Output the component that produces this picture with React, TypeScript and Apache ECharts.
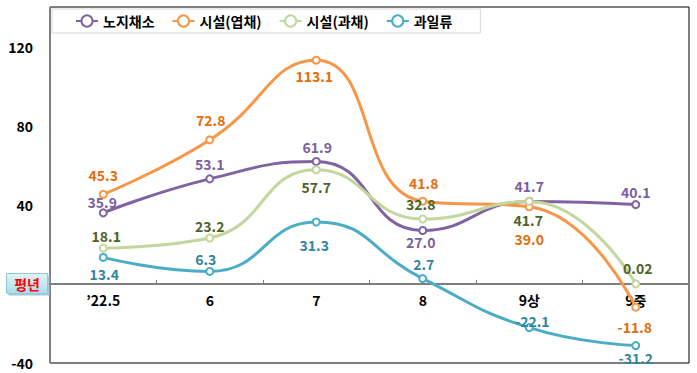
import React, { useEffect, useRef } from "react";
import * as echarts from "echarts";

const categories = ["\u201922.5", "6", "7", "8", "9상", "9중"];
const seriesNames = ["노지채소", "시설(엽채)", "시설(과채)", "과일류"];
const openField = [35.9, 53.1, 61.9, 27.0, 41.7, 40.1];
const leafyVeg = [45.3, 72.8, 113.1, 41.8, 39.0, -11.8];
const fruitVeg = [18.1, 23.2, 57.7, 32.8, 41.7, 0.02];
const fruits = [13.4, 6.3, 31.3, 2.7, -22.1, -31.2];
const yTicks = [-40, 40, 80, 120];
const Y_MIN = -40;
const Y_MAX = 140;

// label placement (label centre relative to point), layout only
const labelOffsets: number[][][] = [
  [[-1, -11], [0, -15], [1, -14], [-2, 12], [0, -15], [0, -13]],
  [[0, -19], [1, -20], [-2, 16], [1, -18], [0, 32], [-1, 20]],
  [[3, -12], [0, -12], [0, 17], [-2, -15], [-1, 19], [2, -16]],
  [[1, 17], [-4, -12], [-2, 23], [1, -15], [3, -7], [0, 12]],
];
const lineColors = ["#8064a2", "#f79646", "#c3d69b", "#4bacc6"];
const labelColors = ["#7b5ea0", "#e46c0a", "#4f6228", "#31859c"];

const FONT = "'Noto Sans CJK KR', 'Noto Sans', sans-serif";
const GRID_TOP = 7;
const GRID_BOTTOM = 10;
const H = 373;

function fmt(v: number): string {
  const t = v * 10;
  return Math.abs(t - Math.round(t)) < 1e-9 ? v.toFixed(1) : String(v);
}

export default function App() {
  const ref = useRef<HTMLDivElement>(null);
  useEffect(() => {
    if (!ref.current) return;
    const chart = echarts.init(ref.current, undefined, { renderer: "svg" });
    const allData = [openField, leafyVeg, fruitVeg, fruits];
    const plotH = H - GRID_TOP - GRID_BOTTOM;
    const zeroOffset = -(plotH * (0 - Y_MIN)) / (Y_MAX - Y_MIN);
    const series = allData.map((arr, si) => ({
      name: seriesNames[si],
      type: "line",
      smooth: 0.5,
      symbol: "emptyCircle",
      symbolSize: 7,
      lineStyle: { color: lineColors[si], width: 3 },
      itemStyle: { color: lineColors[si], borderWidth: 2 },
      z: [3, 4, 5, 2][si],
      data: arr.map((v, i) => ({
        value: v,
        label: {
          show: true,
          position: "inside",
          offset: labelOffsets[si][i],
          formatter: () => fmt(v),
          color: labelColors[si],
          fontFamily: FONT,
          fontWeight: "bold",
          fontSize: 14,
          lineHeight: 14,
        },
      })),
    }));
    chart.setOption({
      animation: false,
      backgroundColor: "#ffffff",
      grid: {
        left: 50,
        right: 8,
        top: GRID_TOP,
        bottom: GRID_BOTTOM,
        show: true,
        borderColor: "#000000",
        borderWidth: 1,
        containLabel: false,
        outerBoundsMode: "none",
      },
      legend: {
        left: 52,
        top: 9,
        padding: [5, 28, 5, 23],
        itemWidth: 22,
        itemHeight: 14,
        itemGap: 17,
        borderColor: "#d9d9d9",
        borderWidth: 1,
        backgroundColor: "#ffffff",
        textStyle: { fontFamily: FONT, fontWeight: "bold", fontSize: 14, color: "#000" },
        data: seriesNames,
      },
      xAxis: {
        type: "category",
        data: categories,
        boundaryGap: true,
        position: "bottom",
        offset: zeroOffset,
        axisLine: { onZero: false, lineStyle: { color: "#7f7f7f", width: 2 } },
        axisTick: { show: true, inside: true, length: 4, lineStyle: { color: "#7f7f7f", width: 1 } },
        axisLabel: {
          margin: 9,
          color: "#000",
          fontFamily: FONT,
          fontWeight: "bold",
          fontSize: 14,
          lineHeight: 14,
        },
        splitLine: { show: false },
      },
      yAxis: {
        type: "value",
        min: Y_MIN,
        max: Y_MAX,
        interval: 40,
        axisLine: { show: true, lineStyle: { color: "#7f7f7f", width: 1 } },
        axisTick: { show: false },
        splitLine: { show: false },
        axisLabel: {
          margin: 17,
          color: "#000",
          fontFamily: FONT,
          fontWeight: "bold",
          fontSize: 14,
          formatter: (v: number) => (yTicks.indexOf(v) >= 0 ? String(v) : ""),
        },
      },
      graphic: [
        {
          type: "group",
          left: 6,
          top: 273,
          children: [
            {
              type: "rect",
              shape: { x: 2, y: 2, width: 41, height: 20 },
              style: { fill: "#a6c9d8" },
            },
            {
              type: "rect",
              shape: { x: 0, y: 0, width: 41, height: 20 },
              style: {
                fill: new echarts.graphic.LinearGradient(0, 0, 0, 1, [
                  { offset: 0, color: "#e4f3f8" },
                  { offset: 1, color: "#a9dcec" },
                ]),
                stroke: "#8fc9dc",
                lineWidth: 1,
              },
            },
            {
              type: "text",
              x: 20.5,
              y: 10,
              style: {
                text: "평년",
                fill: "#ff0000",
                font: `bold 14px ${FONT}`,
                align: "center",
                verticalAlign: "middle",
              },
            },
          ],
        },
      ],
      series,
    });
    return () => chart.dispose();
  }, []);
  return <div ref={ref} style={{ width: 697, height: 373, position: "absolute", left: 0, top: 0 }} />;
}
